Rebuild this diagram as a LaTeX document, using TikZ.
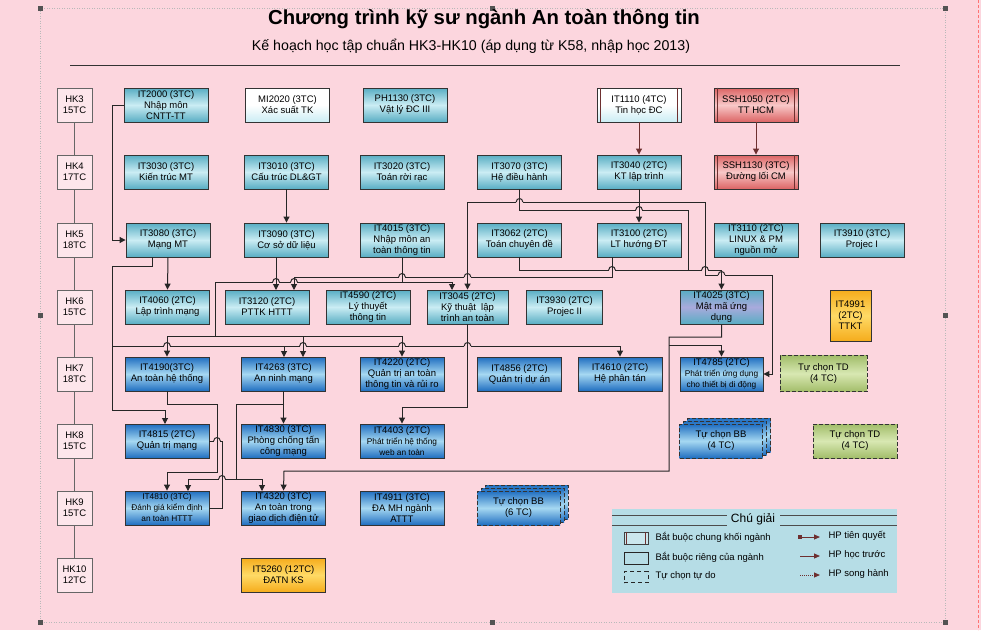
\documentclass[tikz,border=0pt]{standalone}
\usepackage{fontspec}
\setmainfont{Liberation Sans}
\usetikzlibrary{arrows.meta,calc}
\definecolor{bg}{HTML}{FCD6DE}
\definecolor{tealE}{HTML}{58ADC3}
\definecolor{tealM}{HTML}{CBEDF4}
\definecolor{blueE}{HTML}{1F6EC0}
\definecolor{blueM}{HTML}{A6D8F2}
\definecolor{redE}{HTML}{DC6464}
\definecolor{redM}{HTML}{F8C8C8}
\definecolor{yelE}{HTML}{F5AC1C}
\definecolor{yelM}{HTML}{FFDA66}
\definecolor{grnE}{HTML}{A2BD6A}
\definecolor{grnM}{HTML}{D8E8B2}
\definecolor{lavM}{HTML}{A9AADC}
\definecolor{legbg}{HTML}{B6DDE6}
\definecolor{brn}{HTML}{6E3030}
\definecolor{lnc}{HTML}{262626}
\newcommand\sm{\fontsize{8.3}{10}\selectfont}
\tikzset{
  box/.style={draw=black!80, line width=0.9pt, minimum width=84pt, minimum height=34pt,
    inner sep=0.5pt, align=center, font=\fontsize{9.5}{11}\selectfont},
  tealbox/.style={box, top color=tealE, bottom color=tealE, middle color=tealM},
  bluebox/.style={box, top color=blueE, bottom color=blueE, middle color=blueM},
  lavbox/.style={box, top color=tealE, bottom color=tealE, middle color=lavM},
  whitebox/.style={box, top color=white, bottom color=tealM, middle color=white},
  redbox/.style={box, top color=redE, bottom color=redE, middle color=redM},
  yelbox/.style={box, top color=yelE, bottom color=yelE, middle color=yelM},
  grnbox/.style={box, top color=grnE, bottom color=grnE, middle color=grnM},
  dashbox/.style={dash pattern=on 4pt off 2pt},
  sem/.style={draw=gray!80!black, line width=0.8pt, fill=bg!60!white, minimum width=35pt,
    minimum height=34pt, inner sep=0.5pt, align=center, font=\fontsize{9.5}{11}\selectfont},
  ln/.style={draw=lnc, line width=1pt},
  arr/.style={ln, -{Triangle[length=6pt,width=6pt]}},
  arrb/.style={draw=brn, line width=1pt, -{Triangle[length=6pt,width=6pt]}},
  bar/.style={draw=brn, line width=0.8pt},
}
\newcommand\hh[2]{%
  \fill[bg] ({#1-3.3},{#2-1}) rectangle ({#1+3.3},{#2+1});
  \draw[ln] (#1,{#2-1.4}) -- (#1,{#2+1.4});
  \draw[ln] ({#1-3.3},#2) .. controls ({#1-3.3},{#2-4.6}) and ({#1+3.3},{#2-4.6}) .. ({#1+3.3},#2);}
\begin{document}
\begin{tikzpicture}[x=1pt,y=-1pt]
\useasboundingbox (0,0) rectangle (981,630);
\fill[bg] (0,0) rectangle (981,630);
% frame
\draw[gray!55, dash pattern=on 1pt off 1.5pt] (40,8) rectangle (945,622);
\draw[red!55, dash pattern=on 3pt off 2pt] (978,0) -- (978,630);
\foreach \p in {(40,8),(492,8),(945,8),(40,315),(945,315),(40,622),(492,622),(945,622)}
  \fill[gray!65!black] \p ++(-2.5,-2.5) rectangle ++(5,5);
% title
\node[font=\fontsize{20.3}{22}\selectfont\bfseries] (title) at (484,19) {Chương trình kỹ sư ngành An toàn thông tin};
\node[font=\fontsize{14.2}{16}\selectfont] (subtitle) at (471,46) {Kế hoạch học tập chuẩn HK3-HK10 (áp dụng từ K58, nhập học 2013)};
\draw[black!80, line width=0.8pt] (70,65) -- (900,65);
% semesters
\draw[gray!80!black, line width=0.8pt] (74.5,105) -- (74.5,575);
\node[sem] (HK3) at (74.5,105) {HK3\\15TC};
\node[sem] (HK4) at (74.5,172) {HK4\\17TC};
\node[sem] (HK5) at (74.5,240) {HK5\\18TC};
\node[sem] (HK6) at (74.5,307) {HK6\\15TC};
\node[sem] (HK7) at (74.5,374) {HK7\\18TC};
\node[sem] (HK8) at (74.5,441) {HK8\\15TC};
\node[sem] (HK9) at (74.5,508) {HK9\\15TC};
\node[sem] (HK10) at (74.5,575) {HK10\\12TC};
% HK3
\node[tealbox] (IT2000) at (166,105) {IT2000 (3TC)\\Nhập môn\\CNTT-TT};
\node[whitebox] (MI2020) at (287.5,105) {MI2020 (3TC)\\Xác suất TK};
\node[tealbox] (PH1130) at (405,105) {PH1130 (3TC)\\Vật lý ĐC III};
\node[whitebox] (IT1110) at (639,105) {IT1110 (4TC)\\Tin học ĐC};
\node[redbox] (SSH1050) at (756,105) {SSH1050 (2TC)\\TT HCM};
% HK4
\node[tealbox] (IT3030) at (166,172) {IT3030 (3TC)\\Kiến trúc MT};
\node[tealbox] (IT3010) at (286.5,172) {IT3010 (3TC)\\Cấu trúc DL\&GT};
\node[tealbox] (IT3020) at (402,172) {IT3020 (3TC)\\Toán rời rạc};
\node[tealbox] (IT3070) at (519.5,172) {IT3070 (3TC)\\Hệ điều hành};
\node[tealbox] (IT3040) at (639,172) {IT3040 (2TC)\\KT lập trình};
\node[redbox] (SSH1130) at (756,172) {SSH1130 (3TC)\\Đường lối CM};
% HK5
\node[tealbox] (IT3080) at (168,240) {IT3080 (3TC)\\Mạng MT};
\node[tealbox] (IT3090) at (286.5,240) {IT3090 (3TC)\\Cơ sở dữ liệu};
\node[tealbox] (IT4015) at (402,240) {IT4015 (3TC)\\Nhập môn an\\toàn thông tin};
\node[tealbox] (IT3062) at (519.5,240) {IT3062 (2TC)\\Toán chuyên đề};
\node[tealbox] (IT3100) at (639,240) {IT3100 (2TC)\\LT hướng ĐT};
\node[tealbox] (IT3110) at (756,240) {IT3110 (2TC)\\LINUX \& PM\\nguồn mở};
\node[tealbox] (IT3910) at (862,240) {IT3910 (3TC)\\Projec I};
% HK6
\node[tealbox] (IT4060) at (167.5,307) {IT4060 (2TC)\\Lập trình mạng};
\node[tealbox] (IT3120) at (267,307) {IT3120 (2TC)\\PTTK HTTT};
\node[tealbox] (IT4590) at (368,307) {IT4590 (2TC)\\Lý thuyết\\thông tin};
\node[tealbox, minimum width=81pt] (IT3045) at (467.5,307) {IT3045 (2TC)\\Kỹ thuật \ lập\\trình an toàn};
\node[tealbox, minimum width=76pt] (IT3930) at (564.5,307) {IT3930 (2TC)\\Projec II};
\node[lavbox, minimum width=83pt] (IT4025) at (721.5,307) {IT4025 (3TC)\\Mật mã ứng\\dụng};
\node[yelbox, minimum width=41pt, minimum height=51pt] (IT4991) at (850.5,315.5) {IT4991\\(2TC)\\TTKT};
% HK7
\node[bluebox] (IT4190) at (167,374) {IT4190(3TC)\\An toàn hệ thống};
\node[bluebox] (IT4263) at (283.5,374) {IT4263 (3TC)\\An ninh mạng};
\node[bluebox] (IT4220) at (402,374) {IT4220 (2TC)\\Quản trị an toàn\\thông tin và rủi ro};
\node[bluebox] (IT4856) at (519.5,374) {IT4856 (2TC)\\Quản trị dự án};
\node[bluebox] (IT4610) at (620,374) {IT4610 (2TC)\\Hệ phân tán};
\node[bluebox, minimum width=83pt] (IT4785) at (721.5,374) {IT4785 (2TC)\\{\sm Phát triển ứng dụng}\\{\sm cho thiết bị di động}};
\node[grnbox, dashbox, minimum width=87pt, minimum height=36pt] (TD1) at (823.5,373.5) {Tự chọn TD\\(4 TC)};
% HK8
\node[bluebox] (IT4815) at (167,441) {IT4815 (2TC)\\Quản trị mạng};
\node[bluebox] (IT4830) at (283.5,441) {IT4830 (3TC)\\Phòng chống tấn\\công mạng};
\node[bluebox] (IT4403) at (402,441) {IT4403 (2TC)\\{\sm Phát triển hệ thống}\\{\sm web an toàn}};
\node[bluebox, dashbox, minimum width=83pt] (BB4c) at (729,435) {};
\node[bluebox, dashbox, minimum width=83pt] (BB4b) at (725,438) {};
\node[bluebox, dashbox, minimum width=83pt] (BB4) at (721,441) {Tự chọn BB\\(4 TC)};
\node[grnbox, dashbox] (TD2) at (855,441) {Tự chọn TD\\(4 TC)};
% HK9
\node[bluebox] (IT4810) at (167,508) {{\sm IT4810 (3TC)}\\{\sm Đánh giá kiểm định}\\{\sm an toàn HTTT}};
\node[bluebox] (IT4320) at (283.5,508) {IT4320 (3TC)\\An toàn trong\\giao dịch điện tử};
\node[bluebox] (IT4911) at (402,508) {IT4911 (3TC)\\ĐA MH ngành\\ATTT};
\node[bluebox, dashbox, minimum width=83pt] (BB6c) at (526.5,502) {};
\node[bluebox, dashbox, minimum width=83pt] (BB6b) at (522.5,505) {};
\node[bluebox, dashbox, minimum width=83pt] (BB6) at (518.5,508) {Tự chọn BB\\(6 TC)};
% HK10
\node[yelbox] (IT5260) at (283.5,575) {IT5260 (12TC)\\ĐATN KS};
% bars on common courses
\foreach \n in {IT1110,SSH1050,SSH1130}{
  \draw[bar] ([xshift=4pt]\n.north west) -- ([xshift=4pt]\n.south west);
  \draw[bar] ([xshift=-4pt]\n.north east) -- ([xshift=-4pt]\n.south east);
}
% connectors
\draw[arr] (IT2000.west) -- (112,105) |- (IT3080.west);
\draw[arr] (IT3010.south) -- (IT3090.north);
\draw[arrb] (IT1110.south) -- (IT3040.north);
\draw[arrb] (SSH1050.south) -- (SSH1130.north);
\draw[arr] (IT3040.south) -- (IT3100.north);
\draw[arr] (639,202) -- (467.5,202) -- (IT3045.north);
\draw[arr] (639,202) -- (705,202) -- (705,275) -- (772,275) |- (IT4785.east);
\draw[ln] (IT3070.south) -- (519.5,210) -- (688,210) -- (688,270);
\draw[arr] (IT3062.south) -- (519.5,270) -- (721.5,270) -- (IT4025.north);
\draw[arr] (612,257) -- (612,277) -- (294,277) -- (294,290);
\draw[arr] (276,257) -- (276,290);
\draw[ln] (IT4015.south) -- (402,282);
\draw[arr] (215,282) -- (452,282) -- (452,290);
\draw[arr] (215,282) -- (215,336) -- (167,336) -- (IT4190.north);
\draw[arr] (215,336) -- (402,336) -- (IT4220.north);
\draw[arr] (303,336) -- (303,357);
\draw[arr] (152,257) -- (152,266) -- (112,266) -- (112,410) -- (165,410) -- (165,424);
\draw[arr] (112,346) -- (620,346) -- (IT4610.north);
\draw[arr] (284,346) -- (284,357);
\draw[arr] (168,257) -- (IT4060.north);
\draw[arr] (IT3045.south) -- (467.5,407) -- (402,407) -- (IT4403.north);
\draw[arr] (IT4190.south) -- (167,404) -- (217,404) -- (217,472) -- (167,472) -- (IT4810.north);
\draw[arr] (IT4263.south) -- (IT4830.north);
\draw[arr] (284,404) -- (236,404) -- (236,479) -- (188,479) -- (188,491);
\draw[arr] (236,479) -- (262,479) -- (262,491);
\draw[ln] (IT4815.east) -- (222,441) -- (222,508) -- (IT4810.east);
\draw[arr] (IT4025.south) -- (721.5,337) -- (669,337) -- (669,471) -- (284,471) -- (IT4320.north);
\draw[arr] (669,345) -- (721.5,345) -- (IT4785.north);
% hops
\hh{519.5}{202}
\hh{639}{210}
\hh{612}{270}
\hh{705}{270}
\hh{721.5}{275}
\hh{467.5}{277}
\hh{402}{277}
\hh{294}{282}
\hh{276}{282}
\hh{167}{346}
\hh{303}{346}
\hh{402}{346}
\hh{467.5}{346}
\hh{217}{441}
\hh{222}{479}
% legend
\fill[legbg] (612,509) rectangle (897,593);
\node[font=\fontsize{12}{14}\selectfont] (legtitle) at (753,519) {Chú giải};
\foreach \yy in {515.5,525.5}{
  \draw[gray!60!black, line width=1.2pt] (612,\yy) -- (727,\yy);
  \draw[gray!60!black, line width=1.2pt] (780,\yy) -- (897,\yy);
}
\node[draw=gray!50!black, fill=legbg!70!white, minimum width=24pt, minimum height=12pt, inner sep=0pt] (lg1) at (636,538) {};
\draw[bar] ([xshift=3pt]lg1.north west) -- ([xshift=3pt]lg1.south west);
\draw[bar] ([xshift=-3pt]lg1.north east) -- ([xshift=-3pt]lg1.south east);
\node[draw=gray!30!black, line width=0.8pt, fill=legbg, minimum width=24pt, minimum height=12pt, inner sep=0pt] (lg2) at (636,558) {};
\node[draw=gray!30!black, line width=0.8pt, dash pattern=on 4pt off 3pt, minimum width=24pt, minimum height=11pt, inner sep=0pt] (lg3) at (636,577) {};
\node[anchor=west, font=\fontsize{9.5}{11}\selectfont] (lt1) at (652,537) {Bắt buộc chung khối ngành};
\node[anchor=west, font=\fontsize{9.5}{11}\selectfont] (lt2) at (652,557) {Bắt buộc riêng của ngành};
\node[anchor=west, font=\fontsize{9.5}{11}\selectfont] (lt3) at (652,576) {Tự chọn tự do};
\coordinate (la1) at (798,537); \coordinate (lb1) at (820,537);
\coordinate (la2) at (800,556); \coordinate (lb2) at (820,556);
\coordinate (la3) at (800,575); \coordinate (lb3) at (820,575);
\draw[draw=brn, line width=1pt, {Square[length=4pt,width=4pt]}-{Triangle[length=6pt,width=5pt]}] (la1) -- (lb1);
\draw[draw=brn, line width=1pt, -{Triangle[length=6pt,width=5pt]}] (la2) -- (lb2);
\draw[draw=brn, line width=1pt, dash pattern=on 1pt off 1pt, -{Triangle[length=6pt,width=5pt]}] (la3) -- (lb3);
\node[anchor=west, font=\fontsize{9.5}{11}\selectfont] (lt4) at (825,536) {HP tiên quyết};
\node[anchor=west, font=\fontsize{9.5}{11}\selectfont] (lt5) at (825,555) {HP học trước};
\node[anchor=west, font=\fontsize{9.5}{11}\selectfont] (lt6) at (825,574) {HP song hành};
\end{tikzpicture}
\end{document}
